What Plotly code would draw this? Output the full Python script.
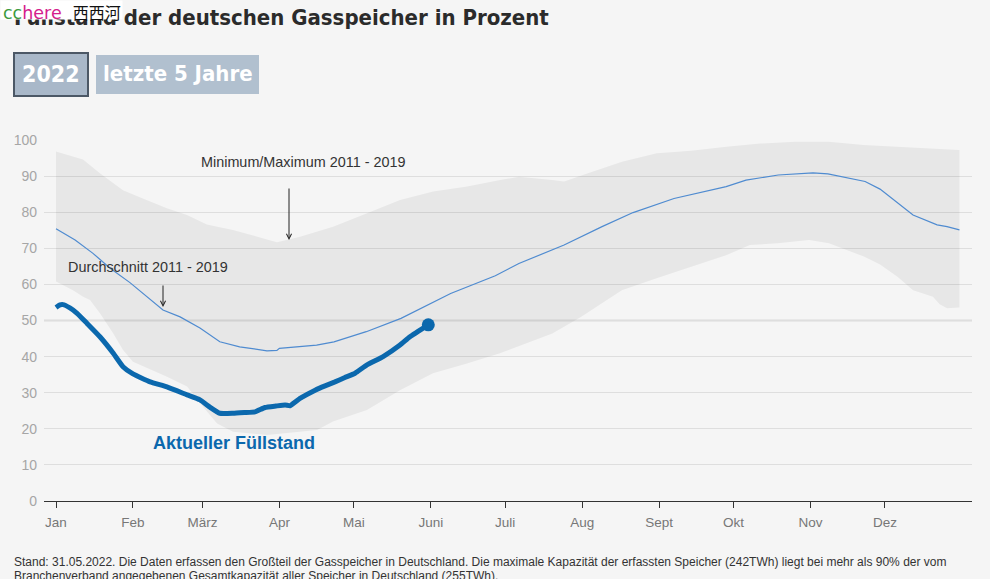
import plotly.graph_objects as go

# ---------------- data (day of year 2022, value in %) ----------------
month_days = [0, 31, 59, 90, 120, 151, 181, 212, 243, 273, 304, 334]
month_labels = ["Jan", "Feb", "März", "Apr", "Mai", "Juni", "Juli", "Aug", "Sept", "Okt", "Nov", "Dez"]
y_ticks = [0, 10, 20, 30, 40, 50, 60, 70, 80, 90, 100]

max_days = [0, 10.9, 17.7, 27, 35, 44.7, 52.8, 60.8, 71.3, 82.2, 89, 98.3, 111.6, 125.3, 138.6,
            151.9, 165.6, 178.9, 186.5, 200, 204.7, 214.3, 228, 242, 255.8, 270, 283.6, 297.7,
            311.4, 325.5, 339, 353.3, 364]
max_vals = [96.8, 94.6, 90.8, 86.1, 83.8, 81.1, 79.2, 76.6, 75.1, 73, 71.7, 73.2, 76, 79.7, 83.4,
            85.7, 87.1, 88.9, 89.8, 88.9, 88.5, 90.8, 94, 96.3, 97, 98.1, 99, 99.5,
            99.5, 98.6, 98.1, 97.7, 97.2]

min_days = [0, 6.8, 10.9, 13.7, 17.7, 23, 27, 31, 44.7, 52.8, 59.2, 64.9, 71.3, 85, 91.5, 98.3,
            105.2, 111.6, 125.3, 138.6, 151.9, 165.6, 178.9, 200, 211.5, 228, 242, 255.8, 270,
            279.6, 290.9, 303.4, 311.4, 325.5, 332, 339, 345.3, 353.3, 356, 359, 364]
min_vals = [60.8, 58.4, 56.6, 55.7, 52, 46.5, 41.8, 38.6, 34.4, 31.7, 26.1, 21.5, 19.2, 18.3, 18.8,
            19.2, 19.7, 22, 25.2, 30.7, 35.4, 38.1, 40.9, 46.4, 51, 58.4, 61.7, 64.9, 68.1,
            70.9, 71.4, 72.3, 71.4, 67.7, 65.5, 62.1, 58.4, 56.6, 54.5, 53.4, 53.6]

avg_days = [0, 7.7, 14.9, 21.8, 29.8, 43.1, 50, 58, 66, 74, 85, 89, 90, 105, 112, 125, 139, 151,
            159, 177, 186.5, 204.7, 220, 232.5, 249, 270, 274, 278, 291, 305, 311, 326, 332,
            345.3, 355, 359, 364]
avg_vals = [75.4, 72.3, 68.6, 64.5, 60.5, 52.9, 51, 47.9, 44.1, 42.7, 41.6, 41.7, 42.3, 43.2, 44.1,
            46.9, 50.6, 54.8, 57.5, 62.4, 65.8, 70.9, 76, 79.9, 83.8, 87.1, 87.9, 88.9, 90.3,
            90.9, 90.6, 88.5, 86.4, 79.2, 76.5, 76, 75.1]

cur_days = [0, 1.6, 2.8, 5.6, 8.5, 12.5, 17.7, 23, 27, 31, 37.9, 44.7, 52.8, 58, 62, 66, 71.3, 76,
            80.2, 84.2, 88.6, 92.3, 94.3, 98.3, 104.4, 108.4, 112.4, 116.4, 120.5, 125.3, 131.8,
            138.6, 142.6, 150]
cur_vals = [53.6, 54.3, 54.4, 53.5, 52, 49.2, 45.5, 41, 37.2, 35.2, 33, 31.6, 29.4, 28, 26, 24.3,
            24.3, 24.5, 24.7, 25.9, 26.3, 26.6, 26.4, 28.4, 30.7, 31.9, 33, 34.2, 35.4, 37.7, 40,
            43.2, 45.5, 48.8]

# ---------------- layout helpers (pixel -> paper) ----------------
W, H = 990, 579
PL, PR, PT, PB = 44, 972, 140, 501


def pxx(x):
    return (x - PL) / (PR - PL)


def pxy(y):
    return (PB - y) / (PB - PT)


BG = "#f5f5f5"
CUR = "#0b68ad"

fig = go.Figure()

# min/max band as a closed polygon
fig.add_trace(go.Scatter(
    x=max_days + min_days[::-1], y=max_vals + min_vals[::-1],
    fill="toself", fillcolor="rgba(0,0,0,0.055)", line=dict(width=0),
    mode="lines", hoverinfo="skip", showlegend=False))

# average
fig.add_trace(go.Scatter(
    x=avg_days, y=avg_vals, mode="lines",
    line=dict(color="#4f8bd0", width=1.2), hoverinfo="skip", showlegend=False))

# current year
fig.add_trace(go.Scatter(
    x=cur_days, y=cur_vals, mode="lines",
    line=dict(color=CUR, width=5, shape="spline", smoothing=0.4),
    hoverinfo="skip", showlegend=False))
fig.add_trace(go.Scatter(
    x=[cur_days[-1]], y=[cur_vals[-1]], mode="markers",
    marker=dict(color=CUR, size=13), hoverinfo="skip", showlegend=False))

shapes = [
    # emphasised 50 line
    dict(type="line", xref="paper", yref="y", x0=0, x1=1, y0=50, y1=50,
         line=dict(color="#dcdcdc", width=2), layer="below"),
    # buttons
    dict(type="rect", xref="paper", yref="paper", x0=pxx(14), x1=pxx(88), y0=pxy(96), y1=pxy(53),
         fillcolor="#a9b8c9", line=dict(color="#4c5866", width=2)),
    dict(type="rect", xref="paper", yref="paper", x0=pxx(96), x1=pxx(259), y0=pxy(94), y1=pxy(55),
         fillcolor="#b1c0cf", line=dict(width=0)),
]

TITLE_FONT = "Liberation Sans Narrow, DejaVu Sans Condensed, Arial Narrow, sans-serif"

annotations = [
    # title
    dict(xref="paper", yref="paper", x=pxx(12), y=pxy(3), xanchor="left", yanchor="top",
         text="<b>Füllstand der deutschen Gasspeicher in Prozent</b>", showarrow=False,
         font=dict(family=TITLE_FONT, size=22, color="#2b2b2b")),
    # watermark overlay: white box, then text
    dict(xref="paper", yref="paper", x=pxx(0), y=pxy(0), xanchor="left", yanchor="top",
         text=" ", showarrow=False, bgcolor="#ffffff", borderpad=0, width=121, height=18),
    dict(xref="paper", yref="paper", x=pxx(2), y=pxy(-1), xanchor="left", yanchor="top",
         text="<span style='color:#3c9a3c'>cc</span><span style='color:#d4208c'>here</span>"
              "  <span style='font-family:Noto Sans CJK SC;font-size:16px'>西西河</span>",
         showarrow=False, borderpad=0,
         font=dict(family="DejaVu Sans, sans-serif", size=17.5, color="#111111")),
    # button labels
    dict(xref="paper", yref="paper", x=pxx(51), y=pxy(74), xanchor="center", yanchor="middle",
         text="<b>2022</b>", showarrow=False,
         font=dict(family=TITLE_FONT, size=23, color="#ffffff")),
    dict(xref="paper", yref="paper", x=pxx(178), y=pxy(74), xanchor="center", yanchor="middle",
         text="<b>letzte 5 Jahre</b>", showarrow=False,
         font=dict(family=TITLE_FONT, size=22, color="#ffffff")),
    # chart annotations
    dict(xref="paper", yref="paper", x=pxx(303), y=pxy(162), xanchor="center", yanchor="middle",
         text="Minimum/Maximum 2011 - 2019", showarrow=False,
         font=dict(family="Liberation Sans, Arial, sans-serif", size=14.4, color="#333333")),
    dict(x=(289 - 56) / 2.482, y=(PB - 240) / 3.61, xref="x", yref="y", ax=0, ay=-53,
         text="", showarrow=True, arrowhead=5, arrowsize=1, arrowwidth=1, arrowcolor="#222222"),
    dict(xref="paper", yref="paper", x=pxx(148), y=pxy(267), xanchor="center", yanchor="middle",
         text="Durchschnitt 2011 - 2019", showarrow=False,
         font=dict(family="Liberation Sans, Arial, sans-serif", size=14.4, color="#333333")),
    dict(x=(163 - 56) / 2.482, y=(PB - 307) / 3.61, xref="x", yref="y", ax=0, ay=-23,
         text="", showarrow=True, arrowhead=5, arrowsize=1, arrowwidth=1, arrowcolor="#222222"),
    dict(xref="paper", yref="paper", x=pxx(234), y=pxy(443), xanchor="center", yanchor="middle",
         text="<b>Aktueller Füllstand</b>", showarrow=False,
         font=dict(family="Liberation Sans, Arial, sans-serif", size=18, color=CUR)),
    # footnote
    dict(xref="paper", yref="paper", x=pxx(12), y=pxy(562), xanchor="left", yanchor="middle",
         text="Stand: 31.05.2022. Die Daten erfassen den Großteil der Gasspeicher in Deutschland. "
              "Die maximale Kapazität der erfassten Speicher (242TWh) liegt bei mehr als 90% der vom",
         showarrow=False, font=dict(family="Liberation Sans, Arial, sans-serif", size=12, color="#333333")),
    dict(xref="paper", yref="paper", x=pxx(12), y=pxy(576), xanchor="left", yanchor="middle",
         text="Branchenverband angegebenen Gesamtkapazität aller Speicher in Deutschland (255TWh).",
         showarrow=False, font=dict(family="Liberation Sans, Arial, sans-serif", size=12, color="#333333")),
]

fig.update_layout(
    width=W, height=H,
    margin=dict(l=PL, r=W - PR, t=PT, b=H - PB, pad=0),
    paper_bgcolor=BG, plot_bgcolor=BG,
    font=dict(family="Liberation Sans, Arial, sans-serif"),
    shapes=shapes, annotations=annotations,
    showlegend=False,
    xaxis=dict(
        range=[(PL - 56) / 2.482, (PR - 56) / 2.482],
        tickmode="array", tickvals=month_days, ticktext=month_labels,
        showgrid=False, zeroline=False,
        showline=True, linecolor="#333333", linewidth=1,
        ticks="outside", ticklen=6, tickwidth=1, tickcolor="#333333",
        ticklabelstandoff=3,
        tickfont=dict(size=13.5, color="#777777"),
        fixedrange=True,
    ),
    yaxis=dict(
        range=[0, 100], tickmode="array", tickvals=y_ticks,
        showgrid=True, gridcolor="#dedede", gridwidth=1,
        zeroline=False, showline=False, ticks="",
        ticklabelstandoff=6,
        tickfont=dict(size=14, color="#a6a6a6"),
        fixedrange=True,
    ),
)

fig.write_html("out.html")
